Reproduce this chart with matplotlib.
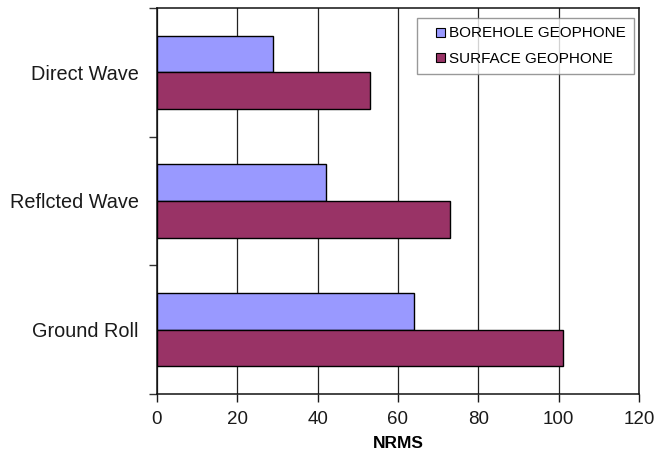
import matplotlib
matplotlib.use("Agg")
import matplotlib.pyplot as plt
import matplotlib.patches as mpatches
from matplotlib.container import BarContainer
from matplotlib.legend_handler import HandlerBase
import numpy as np

categories = ["Direct Wave", "Reflcted Wave", "Ground Roll"]
borehole = [29, 42, 64]
surface = [53, 73, 101]
series_names = ["BOREHOLE GEOPHONE", "SURFACE GEOPHONE"]
x_ticks = [0, 20, 40, 60, 80, 100, 120]

plt.rcParams["font.family"] = ["Liberation Sans", "DejaVu Sans"]

fig = plt.figure(figsize=(6.58, 4.59), dpi=100)
ax = fig.add_axes([0.2386, 0.1416, 0.9711 - 0.2386, 0.9826 - 0.1416])

y = np.arange(len(categories))
h = 1 / 3.5
ax.barh(y - h / 2, borehole, height=h, color="#9999FF", edgecolor="black",
        linewidth=1.0, label=series_names[0], zorder=3)
ax.barh(y + h / 2, surface, height=h, color="#993366", edgecolor="black",
        linewidth=1.0, label=series_names[1], zorder=3)

ax.set_xlim(0, 120)
ax.set_ylim(len(categories) - 0.5, -0.5)
ax.set_xticks(x_ticks)
ax.set_yticks(y)
ax.set_yticklabels(categories)
ax.set_yticks(np.arange(-0.5, len(categories)), minor=True)
ax.tick_params(axis="y", which="major", length=0, pad=13, labelsize=14.3,
               colors="#1a1a1a")
ax.tick_params(axis="y", which="minor", length=6, width=1, direction="out",
               color="#333333")
ax.tick_params(axis="x", length=6, width=1, direction="out", pad=6,
               labelsize=13.5, colors="#1a1a1a")
ax.grid(axis="x", color="#222222", linewidth=0.9, zorder=0)
for s in ax.spines.values():
    s.set_color("#111111")
    s.set_linewidth(1.1)

ax.set_xlabel("NRMS", fontsize=12.5, fontweight="bold", labelpad=6)


class SquareHandler(HandlerBase):
    """Small square key drawn at the right end of the handle box."""

    def create_artists(self, legend, orig_handle, xdescent, ydescent,
                       width, height, fontsize, trans):
        src = orig_handle.patches[0]
        side = height * 0.85
        p = mpatches.Rectangle((width - side - xdescent,
                                -ydescent + (height - side) / 2),
                               side, side,
                               facecolor=src.get_facecolor(),
                               edgecolor="black", linewidth=0.8,
                               transform=trans)
        return [p]


leg = ax.legend(loc="upper right", bbox_to_anchor=(0.99, 0.974),
                fontsize=11, frameon=True, fancybox=False,
                handlelength=1.3, handleheight=0.7, handletextpad=0.25,
                borderpad=0.55, labelspacing=0.75, borderaxespad=0.0,
                handler_map={BarContainer: SquareHandler()})
leg.get_frame().set_edgecolor("#808080")
leg.get_frame().set_linewidth(1.0)

fig.savefig("out.png", dpi=100)
